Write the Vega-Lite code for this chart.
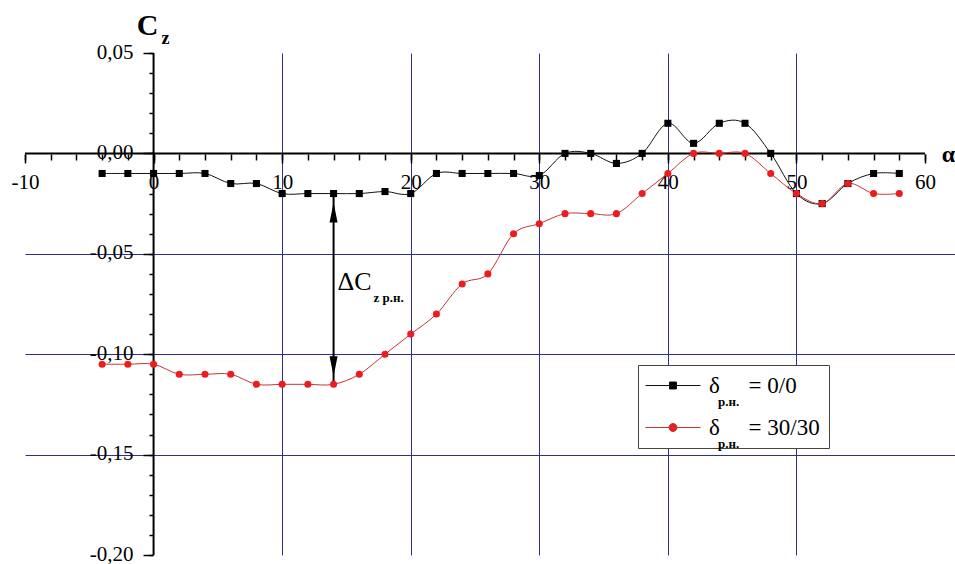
{
  "$schema": "https://vega.github.io/schema/vega-lite/v6.json",
  "width": 930,
  "height": 502,
  "autosize": "none",
  "padding": {"left": 25, "top": 53, "right": 0, "bottom": 9},
  "background": "white",
  "config": {
    "view": {"stroke": null},
    "font": "Liberation Serif",
    "axis": {"labelFlush": false, "labelOverlap": false}
  },
  "datasets": {
    "curves": [
      {"alpha": -4, "cz": -0.01, "series": "0/0"},
      {"alpha": -2, "cz": -0.01, "series": "0/0"},
      {"alpha": 0, "cz": -0.01, "series": "0/0"},
      {"alpha": 2, "cz": -0.01, "series": "0/0"},
      {"alpha": 4, "cz": -0.01, "series": "0/0"},
      {"alpha": 6, "cz": -0.015, "series": "0/0"},
      {"alpha": 8, "cz": -0.015, "series": "0/0"},
      {"alpha": 10, "cz": -0.02, "series": "0/0"},
      {"alpha": 12, "cz": -0.02, "series": "0/0"},
      {"alpha": 14, "cz": -0.02, "series": "0/0"},
      {"alpha": 16, "cz": -0.02, "series": "0/0"},
      {"alpha": 18, "cz": -0.019, "series": "0/0"},
      {"alpha": 20, "cz": -0.02, "series": "0/0"},
      {"alpha": 22, "cz": -0.01, "series": "0/0"},
      {"alpha": 24, "cz": -0.01, "series": "0/0"},
      {"alpha": 26, "cz": -0.01, "series": "0/0"},
      {"alpha": 28, "cz": -0.01, "series": "0/0"},
      {"alpha": 30, "cz": -0.011, "series": "0/0"},
      {"alpha": 32, "cz": 0, "series": "0/0"},
      {"alpha": 34, "cz": 0, "series": "0/0"},
      {"alpha": 36, "cz": -0.005, "series": "0/0"},
      {"alpha": 38, "cz": 0, "series": "0/0"},
      {"alpha": 40, "cz": 0.015, "series": "0/0"},
      {"alpha": 42, "cz": 0.005, "series": "0/0"},
      {"alpha": 44, "cz": 0.015, "series": "0/0"},
      {"alpha": 46, "cz": 0.015, "series": "0/0"},
      {"alpha": 48, "cz": 0, "series": "0/0"},
      {"alpha": 50, "cz": -0.02, "series": "0/0"},
      {"alpha": 52, "cz": -0.025, "series": "0/0"},
      {"alpha": 54, "cz": -0.015, "series": "0/0"},
      {"alpha": 56, "cz": -0.01, "series": "0/0"},
      {"alpha": 58, "cz": -0.01, "series": "0/0"},
      {"alpha": -4, "cz": -0.105, "series": "30/30"},
      {"alpha": -2, "cz": -0.105, "series": "30/30"},
      {"alpha": 0, "cz": -0.105, "series": "30/30"},
      {"alpha": 2, "cz": -0.11, "series": "30/30"},
      {"alpha": 4, "cz": -0.11, "series": "30/30"},
      {"alpha": 6, "cz": -0.11, "series": "30/30"},
      {"alpha": 8, "cz": -0.115, "series": "30/30"},
      {"alpha": 10, "cz": -0.115, "series": "30/30"},
      {"alpha": 12, "cz": -0.115, "series": "30/30"},
      {"alpha": 14, "cz": -0.115, "series": "30/30"},
      {"alpha": 16, "cz": -0.11, "series": "30/30"},
      {"alpha": 18, "cz": -0.1, "series": "30/30"},
      {"alpha": 20, "cz": -0.09, "series": "30/30"},
      {"alpha": 22, "cz": -0.08, "series": "30/30"},
      {"alpha": 24, "cz": -0.065, "series": "30/30"},
      {"alpha": 26, "cz": -0.06, "series": "30/30"},
      {"alpha": 28, "cz": -0.04, "series": "30/30"},
      {"alpha": 30, "cz": -0.035, "series": "30/30"},
      {"alpha": 32, "cz": -0.03, "series": "30/30"},
      {"alpha": 34, "cz": -0.03, "series": "30/30"},
      {"alpha": 36, "cz": -0.03, "series": "30/30"},
      {"alpha": 38, "cz": -0.02, "series": "30/30"},
      {"alpha": 40, "cz": -0.01, "series": "30/30"},
      {"alpha": 42, "cz": 0, "series": "30/30"},
      {"alpha": 44, "cz": 0, "series": "30/30"},
      {"alpha": 46, "cz": 0, "series": "30/30"},
      {"alpha": 48, "cz": -0.01, "series": "30/30"},
      {"alpha": 50, "cz": -0.02, "series": "30/30"},
      {"alpha": 52, "cz": -0.025, "series": "30/30"},
      {"alpha": 54, "cz": -0.015, "series": "30/30"},
      {"alpha": 56, "cz": -0.02, "series": "30/30"},
      {"alpha": 58, "cz": -0.02, "series": "30/30"}
    ],
    "delta": [
      {"alpha": 14, "top": -0.02, "bottom": -0.115}
    ]
  },
  "resolve": {"axis": {"x": "independent", "y": "independent"}},
  "layer": [
    {
      "data": {"values": [{}]},
      "mark": {"type": "rule", "color": "#000000", "strokeWidth": 2},
      "encoding": {
        "x": {
          "datum": -10, "type": "quantitative",
          "scale": {"domain": [-10, 62.333], "nice": false, "zero": false},
          "axis": {
            "orient": "bottom", "values": [10, 20, 30, 40, 50],
            "grid": true, "gridColor": "#2e2e96", "gridWidth": 1, "gridOpacity": 1,
            "domain": false, "ticks": false, "labels": false, "title": null
          }
        },
        "x2": {"datum": 60},
        "y": {
          "datum": 0, "type": "quantitative",
          "scale": {"domain": [-0.2, 0.05], "nice": false, "zero": false},
          "axis": {
            "orient": "left", "values": [-0.05, -0.1, -0.15],
            "grid": true, "gridColor": "#2e2e96", "gridWidth": 1, "gridOpacity": 1,
            "domain": false, "ticks": false, "labels": false, "title": null
          }
        }
      }
    },
    {
      "data": {"values": [{}]},
      "mark": {"type": "rule", "color": "#000000", "strokeWidth": 2},
      "encoding": {
        "x": {
          "datum": 0, "type": "quantitative",
          "axis": {
            "orient": "bottom", "offset": -401,
            "values": [-10, 0, 10, 20, 30, 40, 50, 60],
            "domain": false, "grid": false,
            "tickSize": 9, "tickWidth": 1.5, "tickColor": "#000000",
            "labelFont": "Liberation Serif", "labelFontSize": 21, "labelColor": "#000000",
            "labelPadding": 8, "labelBaseline": "top",
            "labelExpr": "(datum.value < 0 ? '-' : '') + abs(datum.value)",
            "title": "α", "titleFont": "Liberation Serif", "titleFontSize": 24,
            "titleFontWeight": "bold", "titleColor": "#000000",
            "titleAlign": "center", "titleBaseline": "middle",
            "titleX": 923, "titleY": 0
          }
        },
        "y": {
          "datum": -0.2, "type": "quantitative",
          "axis": {
            "orient": "left", "offset": -128,
            "values": [-0.2, -0.15, -0.1, -0.05, 0, 0.05],
            "domain": false, "grid": false,
            "tickSize": 10, "tickWidth": 1.5, "tickColor": "#000000",
            "labelFont": "Liberation Serif", "labelFontSize": 21, "labelColor": "#000000",
            "labelPadding": 10, "labelOffset": -1,
            "labelExpr": "(datum.value < 0 ? '-' : '') + replace(format(abs(datum.value), '.2f'), '.', ',')",
            "title": "C", "titleFont": "Liberation Serif", "titleFontSize": 30,
            "titleFontWeight": "bold", "titleColor": "#000000", "titleAngle": 0,
            "titleAlign": "center", "titleBaseline": "middle",
            "titleX": -6, "titleY": -28
          }
        },
        "y2": {"datum": 0.05}
      }
    },
    {
      "data": {"name": "delta"},
      "mark": {"type": "rule", "color": "#000000", "strokeWidth": 2},
      "encoding": {
        "x": {
          "field": "alpha", "type": "quantitative",
          "axis": {
            "orient": "bottom", "offset": -401,
            "values": [-10, -8, -6, -4, -2, 0, 2, 4, 6, 8, 10, 12, 14, 16, 18, 20, 22, 24, 26, 28, 30, 32, 34, 36, 38, 40, 42, 44, 46, 48, 50, 52, 54, 56, 58, 60],
            "domain": false, "grid": false, "labels": false,
            "tickSize": 6, "tickWidth": 1.5, "tickColor": "#000000", "title": null
          }
        },
        "y": {
          "field": "top", "type": "quantitative",
          "axis": {
            "orient": "left", "offset": -128,
            "values": [-0.2, -0.19, -0.18, -0.17, -0.16, -0.15, -0.14, -0.13, -0.12, -0.11, -0.1, -0.09, -0.08, -0.07, -0.06, -0.05, -0.04, -0.03, -0.02, -0.01, 0, 0.01, 0.02, 0.03, 0.04, 0.05],
            "domain": false, "grid": false, "labels": false,
            "tickSize": 4, "tickWidth": 1.5, "tickColor": "#000000",
            "title": "z", "titleFont": "Liberation Serif", "titleFontSize": 18,
            "titleFontWeight": "bold", "titleColor": "#000000", "titleAngle": 0,
            "titleAlign": "center", "titleBaseline": "middle",
            "titleX": 12, "titleY": -15
          }
        },
        "y2": {"field": "bottom"}
      }
    },
    {
      "data": {"name": "delta"},
      "mark": {"type": "point", "filled": true, "color": "#000000", "opacity": 1, "size": 400, "yOffset": 19, "shape": "M0,-1L0.4,1L-0.4,1Z"},
      "encoding": {
        "x": {"field": "alpha", "type": "quantitative", "axis": null},
        "y": {"field": "top", "type": "quantitative", "axis": null}
      }
    },
    {
      "data": {"name": "delta"},
      "mark": {"type": "point", "filled": true, "color": "#000000", "opacity": 1, "size": 400, "yOffset": -18, "shape": "M0,1L0.4,-1L-0.4,-1Z"},
      "encoding": {
        "x": {"field": "alpha", "type": "quantitative", "axis": null},
        "y": {"field": "bottom", "type": "quantitative", "axis": null}
      }
    },
    {
      "data": {"name": "delta"},
      "mark": {"type": "text", "text": "ΔC", "font": "Liberation Serif", "fontSize": 26, "color": "#000000", "align": "left", "baseline": "alphabetic", "dx": 4, "dy": 96},
      "encoding": {
        "x": {"field": "alpha", "type": "quantitative", "axis": null},
        "y": {"field": "top", "type": "quantitative", "axis": null}
      }
    },
    {
      "data": {"name": "delta"},
      "mark": {"type": "text", "text": "z р.н.", "font": "Liberation Serif", "fontSize": 13, "fontWeight": "bold", "color": "#000000", "align": "left", "baseline": "alphabetic", "dx": 40, "dy": 108},
      "encoding": {
        "x": {"field": "alpha", "type": "quantitative", "axis": null},
        "y": {"field": "top", "type": "quantitative", "axis": null}
      }
    },
    {
      "data": {"name": "curves"},
      "mark": {"type": "line", "interpolate": "cardinal", "strokeWidth": 1},
      "encoding": {
        "x": {"field": "alpha", "type": "quantitative", "axis": null},
        "y": {"field": "cz", "type": "quantitative", "axis": null},
        "stroke": {
          "field": "series", "type": "nominal",
          "scale": {"domain": ["0/0", "30/30"], "range": ["#111111", "#c83434"]},
          "legend": {
            "orient": "none", "legendX": 613, "legendY": 312,
            "title": null, "padding": 8.5,
            "strokeColor": "#444444", "fillColor": "#ffffff",
            "symbolSize": 529, "symbolStrokeWidth": 1,
            "labelFont": "Liberation Serif", "labelFontSize": 23, "labelColor": "#000000",
            "labelOffset": 38.5, "rowPadding": 18, "labelLimit": 300,
            "labelExpr": "'δ\u00a0\u00a0\u00a0\u00a0\u00a0= ' + datum.label",
            "encode": {
              "symbols": {
                "update": {
                  "shape": {"signal": "datum.value == '0/0' ? 'M-1.13,0H3.65M0.956,-0.304H1.564V0.304H0.956Z' : 'M-1.13,0H3.65M1.608,0A0.348,0.348,0,1,1,0.912,0A0.348,0.348,0,1,1,1.608,0Z'"},
                  "fill": {"signal": "datum.value == '0/0' ? '#000000' : '#ee1c1c'"},
                  "stroke": {"signal": "datum.value == '0/0' ? '#000000' : '#d42020'"},
                  "opacity": {"value": 1}
                }
              }
            }
          }
        }
      }
    },
    {
      "data": {"name": "curves"},
      "transform": [{"filter": {"field": "series", "equal": "0/0"}}],
      "mark": {"type": "point", "filled": true, "size": 50, "opacity": 1, "shape": "square"},
      "encoding": {
        "x": {"field": "alpha", "type": "quantitative", "axis": null},
        "y": {"field": "cz", "type": "quantitative", "axis": null},
        "fill": {
          "field": "series", "type": "nominal",
          "scale": {"domain": ["30/30", "0/0"], "range": ["#ee1c1c", "#000000"]},
          "legend": {
            "orient": "none", "legendX": 680, "legendY": 342,
            "title": null, "padding": 0,
            "symbolSize": 1, "symbolOpacity": 0, "symbolStrokeWidth": 0,
            "labelFont": "Liberation Serif", "labelFontSize": 13, "labelFontWeight": "bold",
            "labelColor": "#000000", "labelOffset": 0, "rowPadding": 28,
            "labelExpr": "'р.н.'"
          }
        }
      }
    },
    {
      "data": {"name": "curves"},
      "transform": [{"filter": {"field": "series", "equal": "30/30"}}],
      "mark": {"type": "point", "filled": true, "size": 50, "opacity": 1, "shape": "circle"},
      "encoding": {
        "x": {"field": "alpha", "type": "quantitative", "axis": null},
        "y": {"field": "cz", "type": "quantitative", "axis": null},
        "fill": {
          "field": "series", "type": "nominal",
          "scale": {"domain": ["30/30", "0/0"], "range": ["#ee1c1c", "#000000"]},
          "legend": {
            "orient": "none", "legendX": 680, "legendY": 342,
            "title": null, "padding": 0,
            "symbolSize": 1, "symbolOpacity": 0, "symbolStrokeWidth": 0,
            "labelFont": "Liberation Serif", "labelFontSize": 13, "labelFontWeight": "bold",
            "labelColor": "#000000", "labelOffset": 0, "rowPadding": 28,
            "labelExpr": "'р.н.'"
          }
        }
      }
    }
  ]
}
